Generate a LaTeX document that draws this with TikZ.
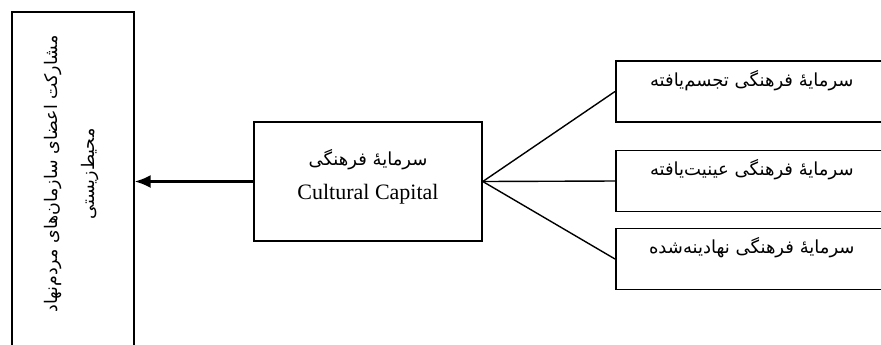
\documentclass[tikz,border=0pt]{standalone}
\usepackage{fontspec}
\setmainfont{Liberation Serif}
\newfontfamily\farsi[Script=Arabic]{DejaVu Sans}
\TeXXeTstate=1
\usetikzlibrary{arrows.meta}
\newcommand{\fa}[1]{{\farsi\beginR #1\endR}}
\begin{document}
\begin{tikzpicture}[x=0.5pt,y=-0.5pt,
  block/.style={draw,line width=0.8pt,inner sep=0pt},
  formbox/.style={block,anchor=west,minimum width=136pt,text height=12.5pt,text depth=18pt,font=\fontsize{9}{11}\selectfont},
  link/.style={line width=0.7pt}]
\useasboundingbox (0,0) rectangle (881,344);
\clip (0,0) rectangle (881,344);
% outcome on the left
\node[block,anchor=north west,minimum width=61pt,minimum height=190pt] (part) at (11,11) {};
\node[rotate=90,align=center,font=\fontsize{8.7}{18.5}\selectfont] (partlabel) at (72,174)
  {\fa{مشارکت اعضای سازمان‌های مردم‌نهاد}\\ \fa{محیط‌زیستی}};
% cultural capital
\node[block,minimum width=114pt,minimum height=59.5pt,align=center,text depth=7pt,font=\fontsize{11}{17}\selectfont] (cap) at (368,181.5)
  {{\fontsize{9}{11}\selectfont\fa{سرمایهٔ فرهنگی}}\\ Cultural Capital};
% its three forms
\node[formbox] (emb) at (615,91.5) {\fa{سرمایهٔ فرهنگی تجسم‌یافته}};
\node[formbox] (obj) at (615,181) {\fa{سرمایهٔ فرهنگی عینیت‌یافته}};
\node[formbox] (inst) at (615,259) {\fa{سرمایهٔ فرهنگی نهادینه‌شده}};
\draw[line width=1.2pt,-{Latex[length=8pt,width=6.5pt]}] (cap.west) -- (cap.west -| part.east);
\foreach \n in {emb,obj,inst}
  \draw[link] (cap.east) -- (\n.west);
\end{tikzpicture}
\end{document}
